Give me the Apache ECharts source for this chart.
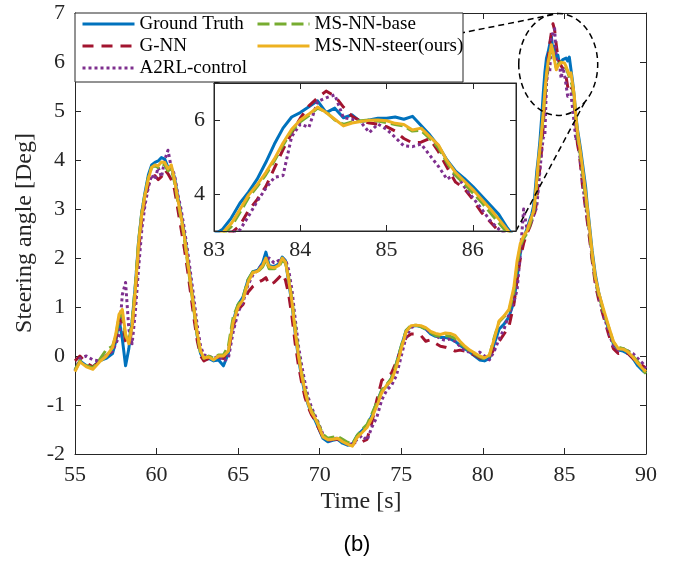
<!DOCTYPE html>
<html><head><meta charset="utf-8">
<script src="https://cdn.jsdelivr.net/npm/echarts@6/dist/echarts.min.js"></script>
<style>html,body{margin:0;padding:0;background:#fff}#c{width:676px;height:566px}</style>
</head><body><div id="c"></div>
<script>
// ---- data (time in s, steering angle in deg) ----
const time = [
  55.0, 55.3, 55.7, 56.1, 56.5, 56.9, 57.3, 57.5, 57.7, 57.9, 58.1,
  58.3, 58.5, 58.7, 58.9, 59.1, 59.3, 59.5, 59.7, 59.9, 60.1, 60.3, 60.5, 60.7, 60.9, 61.1, 61.3, 61.5, 61.7, 61.9, 62.1, 62.3, 62.5, 62.7, 62.9,
  63.2, 63.5, 63.8, 64.1, 64.4, 64.7, 65.0, 65.3, 65.6, 65.9,
  66.2, 66.5, 66.7, 66.9, 67.2, 67.5, 67.7, 67.9,
  68.1, 68.3, 68.5, 68.7, 68.9, 69.1, 69.3, 69.5, 69.7, 69.9,
  70.2, 70.5, 70.8, 71.1, 71.4, 71.7, 72.0, 72.3, 72.6, 72.9, 73.2, 73.5, 73.8, 74.1, 74.4, 74.7, 75.0, 75.3, 75.6, 75.9,
  76.2, 76.5, 76.8, 77.1, 77.4, 77.7, 78.0, 78.3, 78.6, 78.9, 79.2, 79.5, 79.8, 80.1, 80.4, 80.7, 81.0, 81.3, 81.6, 81.9,
  82.1, 82.3, 82.5, 82.7, 82.9,
  83.0, 83.1, 83.2, 83.3, 83.4, 83.5, 83.6, 83.7, 83.8, 83.9, 84.0, 84.1, 84.2, 84.3, 84.4, 84.5, 84.6, 84.7,
  84.8, 84.9, 85.0, 85.1, 85.2, 85.3, 85.4, 85.5, 85.6, 85.7, 85.8, 85.9, 86.0, 86.1, 86.2, 86.3, 86.4, 86.5,
  86.7, 86.9, 87.1, 87.4, 87.7, 88.0, 88.3, 88.6, 88.9, 89.2, 89.5, 89.8, 90.0
];
const groundTruth = [
  -0.3, -0.1, -0.2, -0.22, -0.1, -0.05, 0.05, 0.3, 0.75, 0.35, -0.2,
  0.15, 0.7, 1.45, 2.35, 2.95, 3.35, 3.7, 3.9, 3.95, 3.98, 4.05, 4.02, 3.85, 3.85, 3.65, 3.25, 2.9, 2.5, 2.0, 1.5, 0.95, 0.4, 0.05, -0.08,
  -0.05, -0.1, -0.08, -0.2, 0.05, 0.72, 1.05, 1.2, 1.55, 1.72,
  1.75, 1.9, 2.12, 1.85, 1.82, 1.88, 2.02, 1.95,
  1.5, 1.05, 0.45, -0.05, -0.45, -0.78, -1.0, -1.18, -1.3, -1.45,
  -1.68, -1.75, -1.72, -1.7, -1.78, -1.82, -1.8, -1.62, -1.52, -1.42, -1.22, -0.95, -0.7, -0.62, -0.45, -0.15, 0.2, 0.52, 0.6, 0.62,
  0.6, 0.55, 0.45, 0.4, 0.38, 0.38, 0.35, 0.3, 0.22, 0.15, 0.08, 0.0, -0.08, -0.1, -0.05, 0.25, 0.55, 0.65, 0.8, 1.1,
  1.6, 2.1, 2.4, 2.6, 2.8,
  2.9, 3.05, 3.35, 3.75, 4.05, 4.4, 4.85, 5.35, 5.78, 6.08, 6.2, 6.36, 6.52, 6.2, 6.32, 6.06, 6.14, 5.95,
  6.0, 6.05, 6.05, 6.08, 6.02, 6.1, 5.85, 5.6, 5.3, 4.92, 4.62, 4.42, 4.2, 3.95, 3.7, 3.45, 3.08, 2.78,
  2.15, 1.65, 1.3, 0.9, 0.55, 0.25, 0.12, 0.1, 0.05, -0.05, -0.2, -0.3, -0.35
];
const gNN = [
  -0.1, 0.0, -0.15, -0.22, -0.12, 0.0, 0.12, 0.35, 0.75, 0.7, 0.3,
  0.2, 0.55, 1.25, 2.15, 2.8, 3.2, 3.5, 3.62, 3.68, 3.6, 3.66, 3.8, 3.72, 3.6, 3.4, 3.0, 2.6, 2.2, 1.75, 1.25, 0.75, 0.3, 0.0, -0.1,
  -0.05, -0.05, -0.02, -0.05, 0.1, 0.6, 0.95, 1.05, 1.3, 1.42,
  1.5, 1.55, 1.6, 1.45, 1.5, 1.6, 1.68, 1.55,
  1.25, 0.8, 0.25, -0.2, -0.55, -0.85, -1.05, -1.2, -1.3, -1.45,
  -1.66, -1.72, -1.7, -1.7, -1.76, -1.8, -1.82, -1.72, -1.75, -1.7, -1.35, -0.9, -0.5, -0.42, -0.35, -0.12, 0.15, 0.38, 0.45, 0.45,
  0.42, 0.3, 0.33, 0.26, 0.2, 0.18, 0.15, 0.1, 0.12, 0.1, 0.05, 0.02, -0.04, -0.06, -0.02, 0.15, 0.3, 0.45, 0.6, 1.05,
  1.55, 2.0, 2.3, 2.5, 2.65,
  2.75, 2.82, 2.95, 3.15, 3.55, 3.85, 4.2, 4.7, 5.2, 5.65, 6.05, 6.38, 6.6, 6.78, 6.65, 6.35, 6.1, 5.97,
  5.92, 5.89, 5.82, 5.7, 5.5, 5.38, 5.4, 5.5, 5.15, 4.72, 4.32, 4.15, 3.85, 3.5, 3.25, 3.0, 2.75, 2.5,
  1.95, 1.45, 1.15, 0.8, 0.45, 0.15, 0.05, 0.08, 0.05, -0.05, -0.12, -0.2, -0.25
];
const a2rlControl = [
  -0.3, -0.05, 0.0, -0.08, -0.1, 0.0, 0.1, 0.25, 0.4, 1.25, 1.5,
  0.55, 0.25, 0.9, 1.8, 2.6, 3.1, 3.45, 3.7, 3.6, 3.85, 3.65, 4.0, 4.2, 3.85, 3.7, 3.3, 3.0, 2.6, 2.15, 1.65, 1.15, 0.6, 0.2, 0.02,
  0.0, -0.05, 0.0, -0.1, -0.05, 0.5, 0.9, 1.1, 1.45, 1.65,
  1.75, 1.88, 1.95, 2.0, 1.9, 1.95, 1.95, 1.98,
  1.75, 1.35, 0.75, 0.2, -0.2, -0.55, -0.85, -1.05, -1.2, -1.35,
  -1.6, -1.72, -1.72, -1.66, -1.72, -1.78, -1.8, -1.7, -1.62, -1.72, -1.45, -1.25, -0.9, -0.7, -0.6, -0.4, 0.0, 0.4, 0.58, 0.62,
  0.62, 0.55, 0.48, 0.42, 0.35, 0.32, 0.35, 0.3, 0.2, 0.1, 0.08, 0.05, 0.08, 0.0, -0.08, 0.1, 0.35, 0.55, 0.85, 1.1,
  1.35, 2.1, 3.0, 2.6, 2.7,
  2.75, 2.85, 2.95, 3.03, 3.4, 3.8, 4.15, 4.45, 4.5, 5.55, 5.89, 5.8, 6.5, 6.6, 6.68, 6.06, 6.02, 5.95,
  5.66, 5.89, 5.75, 5.53, 5.3, 5.28, 5.35, 5.05, 4.75, 4.4, 4.55, 4.2, 3.9, 3.6, 3.28, 3.05, 2.85, 2.6,
  2.0, 1.55, 1.2, 0.85, 0.5, 0.2, 0.12, 0.15, 0.1, 0.05, -0.05, -0.15, -0.25
];
const msnnBase = [
  -0.28, -0.1, -0.2, -0.24, -0.08, 0.12, 0.2, 0.4, 0.8, 0.85, 0.4,
  0.3, 0.7, 1.45, 2.35, 2.95, 3.32, 3.65, 3.85, 3.88, 3.85, 3.92, 3.9, 3.78, 3.82, 3.55, 3.15, 2.8, 2.4, 1.9, 1.4, 0.9, 0.4, 0.05, -0.05,
  0.0, -0.05, 0.02, 0.02, 0.2, 0.8, 1.05, 1.2, 1.55, 1.72,
  1.72, 1.82, 1.95, 1.78, 1.78, 1.82, 1.95, 1.9,
  1.6, 1.15, 0.6, 0.05, -0.35, -0.68, -0.95, -1.12, -1.22, -1.38,
  -1.6, -1.68, -1.66, -1.64, -1.7, -1.76, -1.8, -1.62, -1.5, -1.4, -1.18, -0.95, -0.7, -0.58, -0.46, -0.15, 0.2, 0.52, 0.63, 0.63,
  0.6, 0.55, 0.48, 0.42, 0.4, 0.42, 0.4, 0.36, 0.26, 0.18, 0.1, 0.04, -0.02, -0.06, 0.0, 0.38, 0.7, 0.8, 0.92, 1.3,
  1.85, 2.25, 2.4, 2.5, 2.7,
  2.8, 2.9, 3.12, 3.5, 3.9, 4.2, 4.52, 4.9, 5.32, 5.7, 5.95, 6.12, 6.32, 6.22, 6.0, 5.88, 5.95, 5.98,
  6.0, 5.97, 5.93, 5.88, 5.84, 5.7, 5.72, 5.5, 5.25, 4.85, 4.5, 4.28, 4.03, 3.78, 3.5, 3.22, 2.95, 2.65,
  2.05, 1.55, 1.25, 0.9, 0.6, 0.28, 0.18, 0.15, 0.1, 0.0, -0.12, -0.28, -0.36
];
const msnnSteer = [
  -0.32, -0.12, -0.22, -0.27, -0.12, -0.01, 0.17, 0.45, 0.85, 0.95, 0.45,
  0.25, 0.6, 1.35, 2.3, 2.9, 3.3, 3.62, 3.85, 3.9, 3.88, 3.96, 3.95, 3.82, 3.9, 3.6, 3.2, 2.85, 2.45, 1.95, 1.45, 0.95, 0.45, 0.1, -0.04,
  -0.02, -0.08, 0.0, 0.0, 0.1, 0.7, 1.0, 1.15, 1.5, 1.7,
  1.73, 1.85, 2.0, 1.82, 1.8, 1.85, 2.0, 1.92,
  1.55, 1.1, 0.5, 0.0, -0.4, -0.72, -0.98, -1.15, -1.26, -1.4,
  -1.65, -1.71, -1.7, -1.68, -1.75, -1.8, -1.84, -1.66, -1.56, -1.46, -1.26, -1.02, -0.75, -0.6, -0.5, -0.22, 0.15, 0.5, 0.62, 0.63,
  0.62, 0.58, 0.5, 0.46, 0.44, 0.47, 0.46, 0.42, 0.3, 0.2, 0.12, 0.06, 0.0, -0.04, 0.02, 0.35, 0.72, 0.82, 0.95, 1.4,
  1.95, 2.3, 2.45, 2.55, 2.75,
  2.85, 2.95, 3.2, 3.58, 3.97, 4.25, 4.58, 4.95, 5.38, 5.75, 6.0, 6.16, 6.35, 6.2, 6.02, 5.84, 5.92, 5.96,
  5.99, 6.0, 5.98, 5.91, 5.88, 5.73, 5.78, 5.55, 5.33, 4.9, 4.58, 4.35, 4.12, 3.86, 3.6, 3.32, 3.03, 2.72,
  2.1, 1.6, 1.3, 0.95, 0.62, 0.3, 0.15, 0.14, 0.08, -0.02, -0.15, -0.26, -0.32
];
const seriesNames = ['Ground Truth', 'G-NN', 'A2RL-control', 'MS-NN-base', 'MS-NN-steer(ours)'];
const mainXTicks = [55, 60, 65, 70, 75, 80, 85, 90];
const mainYTicks = [-2, -1, 0, 1, 2, 3, 4, 5, 6, 7];
const insetXTicks = [83, 84, 85, 86];
const insetYTicks = [4, 6];

// ---- styling / layout ----
const SERIF = "'Liberation Serif', 'Times New Roman', serif";
const AX = '#262626';
const MAIN = {left: 75, top: 13, width: 571, height: 441};
const INSET = {left: 214, top: 83, width: 302, height: 148};
const styles = [
  {vals: groundTruth, color: '#0072BD', type: 'solid'},
  {vals: gNN, color: '#A2142F', type: [11, 8]},
  {vals: a2rlControl, color: '#7E2F8E', type: [3, 3]},
  {vals: msnnBase, color: '#77AC30', type: [12, 5]},
  {vals: msnnSteer, color: '#EDB120', type: 'solid'}
];

function xAx(gridIndex, min, max, ticks, pos, showLabel, z, margin) {
  return {type: 'value', gridIndex, min, max, position: pos, z,
    axisLine: {show: true, onZero: false, lineStyle: {color: AX, width: 1}},
    axisTick: {show: true, inside: true, length: 6, customValues: ticks, lineStyle: {color: AX}},
    axisLabel: {show: showLabel, customValues: ticks, color: AX, fontFamily: SERIF, fontSize: 22, margin: margin},
    splitLine: {show: false}};
}

const chart = echarts.init(document.getElementById('c'));
const series = [];
styles.forEach((s, i) => {
  [0, 2].forEach(ax => {
    series.push({
      name: seriesNames[i], type: 'line', xAxisIndex: ax, yAxisIndex: ax,
      data: time.map((t, k) => [t, s.vals[k]]),
      showSymbol: false, symbol: 'none', clip: true, animation: false,
      z: ax === 0 ? 2 : 4,
      lineStyle: {color: s.color, width: 3, type: s.type, cap: 'butt', join: 'round'},
      itemStyle: {color: s.color}
    });
  });
});

const legendBase = {orient: 'vertical', top: 14, itemWidth: 52, itemHeight: 14, itemGap: 2, padding: 0,
  z: 6, selectedMode: false,
  itemStyle: {opacity: 0},
  lineStyle: {width: 3},
  textStyle: {fontFamily: SERIF, fontSize: 19, lineHeight: 20, color: '#000'}};

chart.setOption({
  backgroundColor: '#fff',
  animation: false,
  grid: [
    Object.assign({show: false}, MAIN),
    Object.assign({show: false}, INSET)
  ],
  xAxis: [
    xAx(0, 55, 90, mainXTicks, 'bottom', true, 1, 10),
    xAx(0, 55, 90, mainXTicks, 'top', false, 1, 10),
    xAx(1, 83, 86.5, insetXTicks, 'bottom', true, 5, 8),
    xAx(1, 83, 86.5, insetXTicks, 'top', false, 5, 8)
  ],
  yAxis: [
    xAx(0, -2, 7, mainYTicks, 'left', true, 1, 10),
    xAx(0, -2, 7, mainYTicks, 'right', false, 1, 10),
    xAx(1, 3, 7, insetYTicks, 'left', true, 5, 9),
    xAx(1, 3, 7, insetYTicks, 'right', false, 5, 9)
  ],
  legend: [
    Object.assign({data: seriesNames.slice(0, 3), left: 81}, legendBase),
    Object.assign({data: seriesNames.slice(3), left: 256}, legendBase)
  ],
  series: series
});

// ---- annotations: zoom ellipse, connectors, boxes, titles ----
const zoomCenter = [84.62, 5.95];
const zoomRadius = [2.42, 1.04];
const toPx = p => chart.convertToPixel({xAxisIndex: 0, yAxisIndex: 0}, p);
const c = toPx(zoomCenter);
const e = toPx([zoomCenter[0] + zoomRadius[0], zoomCenter[1] - zoomRadius[1]]);
const rx = e[0] - c[0], ry = e[1] - c[1];
const ang = 48 * Math.PI / 180;
const dash = {stroke: '#000', lineWidth: 1.5, lineDash: [6, 4], fill: null};

chart.setOption({
  graphic: [
    {type: 'ellipse', z: 2.5, silent: true, shape: {cx: c[0], cy: c[1], rx: rx, ry: ry}, style: dash},
    {type: 'line', z: 2.5, silent: true, shape: {x1: INSET.left, y1: INSET.top, x2: c[0], y2: c[1] - ry}, style: dash},
    {type: 'line', z: 2.5, silent: true, shape: {x1: INSET.left + INSET.width, y1: INSET.top + INSET.height,
      x2: c[0] + rx * Math.cos(ang), y2: c[1] + ry * Math.sin(ang)}, style: dash},
    {type: 'rect', z: 3, silent: true, shape: {x: INSET.left, y: INSET.top, width: INSET.width, height: INSET.height},
      style: {fill: '#fff', stroke: AX, lineWidth: 1}},
    {type: 'rect', z: 5, silent: true, shape: {x: 75, y: 13, width: 388, height: 69},
      style: {fill: '#fff', stroke: AX, lineWidth: 1}},
    {type: 'text', z: 6, silent: true, x: 361, y: 502,
      style: {text: 'Time [s]', font: '24px ' + SERIF, fill: AX, align: 'center', verticalAlign: 'middle', textAlign: 'center', textVerticalAlign: 'middle'}},
    {type: 'text', z: 6, silent: true, x: 25, y: 233, rotation: Math.PI / 2,
      style: {text: 'Steering angle [Deg]', font: '24px ' + SERIF, fill: AX, align: 'center', verticalAlign: 'middle', textAlign: 'center', textVerticalAlign: 'middle'}},
    {type: 'text', z: 6, silent: true, x: 357, y: 545,
      style: {text: '(b)', font: "22px 'Liberation Sans', Arial, sans-serif", fill: '#000', align: 'center', verticalAlign: 'middle', textAlign: 'center', textVerticalAlign: 'middle'}}
  ]
});
</script>
</body></html>
